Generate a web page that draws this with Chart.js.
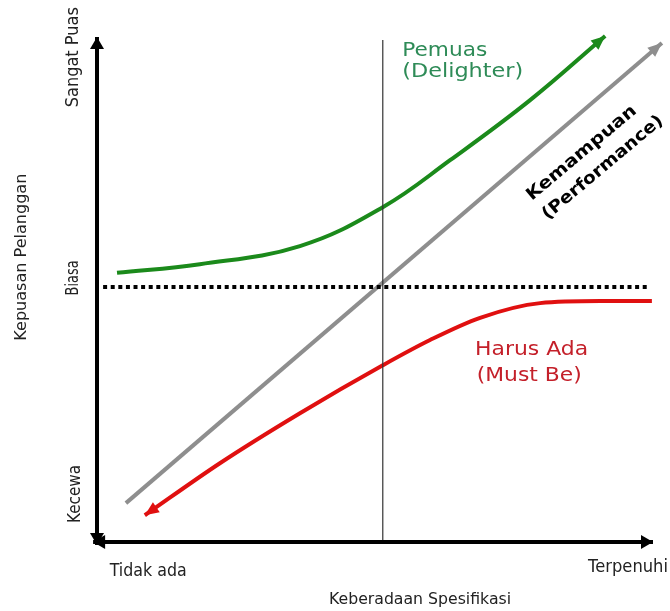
<!DOCTYPE html>
<html>
<head>
<meta charset="utf-8">
<script src="https://cdn.jsdelivr.net/npm/chart.js@4.4.1/dist/chart.umd.min.js"></script>
<style>
html, body { margin: 0; padding: 0; background: #fff; }
#wrap { width: 670px; height: 611px; }
</style>
</head>
<body>
<div id="wrap"><canvas id="chart"></canvas></div>
<script>
'use strict';

// curves (x: spec presence 0..100, y: satisfaction 0..100)
var greenX = [3.6, 18.5, 36.5, 51.4, 63.5, 77.9, 91.4];
var greenY = [53.3, 55.0, 58.6, 66.3, 75.6, 87.5, 100.2];
var redX = [8.6, 22.1, 36.5, 51.4, 59.9, 68.9, 79.7, 90.5, 99.8];
var redY = [5.3, 15.6, 25.5, 35.0, 40.0, 44.4, 47.3, 47.7, 47.7];
var grayX = [5.2, 101.6];
var grayY = [7.7, 98.8];
var neutralLevel = 50.5;
var neutralX = [1.1, 99.1];
var middleX = 51.4;

var yTickLabels = ['Kecewa', 'Biasa', 'Sangat Puas'];
var xTickLabels = ['Tidak ada', 'Terpenuhi'];
var yTitle = 'Kepuasan Pelanggan';
var xTitle = 'Keberadaan Spesifikasi';
var curveNames = [['Pemuas', '(Delighter)'], ['Harus Ada', '(Must Be)'], ['Kemampuan', '(Performance)']];

function pts(xs, ys) {
  var out = [];
  for (var i = 0; i < xs.length; i++) {
    out.push({x: xs[i], y: ys[i]});
  }
  return out;
}

// text with a horizontal squeeze so it fits a given width
function putText(ctx, txt, x, y, font, color, rot, width, align) {
  ctx.save();
  ctx.font = font;
  ctx.fillStyle = color;
  ctx.textBaseline = 'middle';
  ctx.textAlign = align || 'center';
  ctx.translate(x, y);
  ctx.rotate(rot || 0);
  if (width) {
    var w = ctx.measureText(txt).width;
    ctx.scale(width / w, 1);
  }
  ctx.fillText(txt, 0, 0);
  ctx.restore();
}

function arrowHead(ctx, tipX, tipY, fromX, fromY, len, half, color) {
  var a = Math.atan2(tipY - fromY, tipX - fromX);
  ctx.save();
  ctx.fillStyle = color;
  ctx.translate(tipX, tipY);
  ctx.rotate(a);
  ctx.beginPath();
  ctx.moveTo(0, 0);
  ctx.lineTo(-len, -half);
  ctx.lineTo(-len, half);
  ctx.closePath();
  ctx.fill();
  ctx.restore();
}

var arrowPlugin = {
  id: 'arrows',
  afterDatasetsDraw: function(chart) {
    var ctx = chart.ctx;
    chart.data.datasets.forEach(function(ds, i) {
      if (!ds.arrow) return;
      var els = chart.getDatasetMeta(i).data;
      var n = els.length;
      var len = ds.arrowLen || 14;
      var half = ds.arrowHalf || 6;
      if (ds.arrow === 'end' || ds.arrow === 'both') {
        var last = els[n - 1];
        var fx = last.cp1x !== undefined ? last.cp1x : els[n - 2].x;
        var fy = last.cp1y !== undefined ? last.cp1y : els[n - 2].y;
        if (Math.abs(fx - last.x) + Math.abs(fy - last.y) < 1) { fx = els[n - 2].x; fy = els[n - 2].y; }
        arrowHead(ctx, last.x, last.y, fx, fy, len, half, ds.borderColor);
      }
      if (ds.arrow === 'start' || ds.arrow === 'both') {
        var first = els[0];
        var gx = first.cp2x !== undefined ? first.cp2x : els[1].x;
        var gy = first.cp2y !== undefined ? first.cp2y : els[1].y;
        if (Math.abs(gx - first.x) + Math.abs(gy - first.y) < 1) { gx = els[1].x; gy = els[1].y; }
        arrowHead(ctx, first.x, first.y, gx, gy, len, half, ds.borderColor);
      }
    });
  }
};

var labelPlugin = {
  id: 'labels',
  afterDraw: function(chart) {
    var ctx = chart.ctx;
    var xs = chart.scales.x;
    var ys = chart.scales.y;
    function X(v) { return xs.getPixelForValue(v); }
    function Y(v) { return ys.getPixelForValue(v); }
    var small = '17px "DejaVu Sans"';
    var up = -Math.PI / 2;

    putText(ctx, yTickLabels[2], X(-4.3), Y(96), small, '#222', up, 100);
    putText(ctx, yTickLabels[1], X(-4.3), Y(52.3), small, '#222', up, 35);
    putText(ctx, yTickLabels[0], X(-3.8), Y(9.5), small, '#222', up, 58);
    putText(ctx, yTitle, X(-13.5), Y(56.4), '16px "DejaVu Sans"', '#222', up, 167);

    putText(ctx, xTickLabels[0], X(9.2), Y(-5.9), small, '#222', 0, 77);
    putText(ctx, xTickLabels[1], X(95.5), Y(-5.1), small, '#222', 0, 80);
    putText(ctx, xTitle, X(58.1), Y(-11.5), '16px "DejaVu Sans"', '#222', 0, 182);

    var big = '20px "DejaVu Sans"';
    putText(ctx, curveNames[0][0], X(54.9), Y(97.3), big, '#2e8b57', 0, 85, 'left');
    putText(ctx, curveNames[0][1], X(54.9), Y(93.2), big, '#2e8b57', 0, 121, 'left');
    putText(ctx, curveNames[1][0], X(68.0), Y(38.0), big, '#c4202a', 0, 113, 'left');
    putText(ctx, curveNames[1][1], X(68.3), Y(33.0), big, '#c4202a', 0, 105, 'left');

    var bold = 'bold 17px "DejaVu Sans"';
    var rot = -40 * Math.PI / 180;
    putText(ctx, curveNames[2][0], X(87.2), Y(77.0), bold, '#000', rot, 138);
    putText(ctx, curveNames[2][1], X(91.0), Y(74.1), bold, '#000', rot, 152);
  }
};

var ctx = document.getElementById('chart').getContext('2d');

new Chart(ctx, {
  type: 'scatter',
  data: {
    datasets: [
      {
        label: 'sumbu y',
        data: pts([0, 0], [-0.6, 100]),
        showLine: true, borderColor: '#000', borderWidth: 4, pointRadius: 0,
        arrow: 'both', arrowLen: 12, arrowHalf: 7
      },
      {
        label: 'sumbu x',
        data: pts([-0.7, 100], [0, 0]),
        showLine: true, borderColor: '#000', borderWidth: 4, pointRadius: 0,
        arrow: 'both', arrowLen: 12, arrowHalf: 7
      },
      {
        label: 'tengah',
        data: pts([middleX, middleX], [0, 99.4]),
        showLine: true, borderColor: '#333', borderWidth: 1.2, pointRadius: 0
      },
      {
        label: 'biasa',
        data: pts(neutralX, [neutralLevel, neutralLevel]),
        showLine: true, borderColor: '#000', borderWidth: 4, borderDash: [4, 3.6], pointRadius: 0
      },
      {
        label: 'Kemampuan',
        data: pts(grayX, grayY),
        showLine: true, borderColor: '#8e8e8e', borderWidth: 4, pointRadius: 0,
        arrow: 'end', arrowLen: 14, arrowHalf: 6
      },
      {
        label: 'Pemuas',
        data: pts(greenX, greenY),
        showLine: true, borderColor: '#1b8a1b', borderWidth: 4, pointRadius: 0,
        tension: 0.4,
        arrow: 'end', arrowLen: 14, arrowHalf: 6
      },
      {
        label: 'Harus Ada',
        data: pts(redX, redY),
        showLine: true, borderColor: '#e01010', borderWidth: 4, pointRadius: 0,
        cubicInterpolationMode: 'monotone',
        arrow: 'start', arrowLen: 14, arrowHalf: 6
      }
    ]
  },
  options: {
    responsive: true,
    maintainAspectRatio: false,
    animation: false,
    clip: false,
    layout: { padding: { left: 97, right: 17, top: 37, bottom: 69 } },
    plugins: { legend: { display: false }, tooltip: { enabled: false } },
    scales: {
      x: { type: 'linear', min: 0, max: 100, display: false },
      y: { type: 'linear', min: 0, max: 100, display: false }
    }
  },
  plugins: [arrowPlugin, labelPlugin]
});
</script>
</body>
</html>
